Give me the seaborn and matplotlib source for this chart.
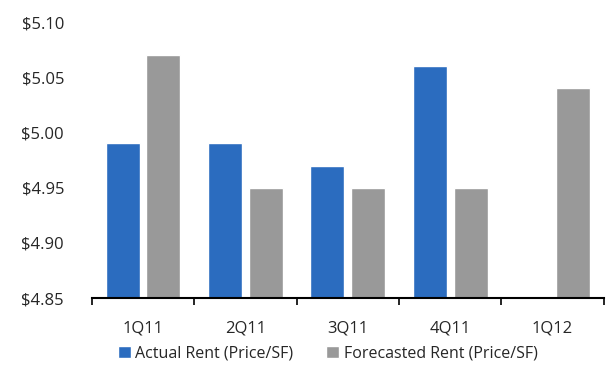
import numpy as np
import pandas as pd
import matplotlib
matplotlib.use('Agg')
import matplotlib.pyplot as plt
import seaborn as sns
from matplotlib.ticker import FixedLocator, FuncFormatter

quarters = ["1Q11", "2Q11", "3Q11", "4Q11", "1Q12"]
actual_rent = [4.99, 4.99, 4.97, 5.06, np.nan]
forecast_rent = [5.07, 4.95, 4.95, 4.95, 5.04]
series_names = ["Actual Rent (Price/SF)", "Forecasted Rent (Price/SF)"]

df = pd.DataFrame({
    "Quarter": quarters * 2,
    "Rent": actual_rent + forecast_rent,
    "Series": [series_names[0]] * 5 + [series_names[1]] * 5,
})

sns.set_theme(style="white")
plt.rcParams['font.family'] = ['Open Sans', 'DejaVu Sans']

fig = plt.figure(figsize=(6.08, 3.67), dpi=100)
ax = fig.add_axes([0.151, 0.188, 0.842, 0.752])

sns.barplot(data=df, x="Quarter", y="Rent", hue="Series", ax=ax,
            palette=["#2b6cbf", "#999999"], width=0.8, gap=0.17,
            saturation=1, legend=True)

ax.set_ylim(4.85, 5.10)
ax.set_yticks(np.arange(4.85, 5.101, 0.05))
ax.yaxis.set_major_formatter(FuncFormatter(lambda v, p: f"${v:.2f}"))
ax.set_xlim(-0.5, 4.5)
ax.xaxis.set_minor_locator(FixedLocator(np.arange(-0.5, 5.0, 1.0)))
ax.tick_params(axis='x', which='major', length=0, labelsize=12, pad=16)
ax.tick_params(axis='x', which='minor', length=5, width=1.2, color='black', direction='out', bottom=True)
ax.tick_params(axis='y', length=0, labelsize=12, pad=20)
ax.set_xlabel("")
ax.set_ylabel("")
for s in ['top', 'right', 'left']:
    ax.spines[s].set_visible(False)
ax.spines['bottom'].set_color('black')
ax.spines['bottom'].set_linewidth(1.5)

ax.legend(loc='upper center', bbox_to_anchor=(0.461, -0.12), ncol=2, frameon=False,
          fontsize=11.5, handlelength=0.8, handleheight=0.8, handletextpad=0.3,
          columnspacing=2.05)

plt.savefig("out.png", dpi=100)
plt.close()
